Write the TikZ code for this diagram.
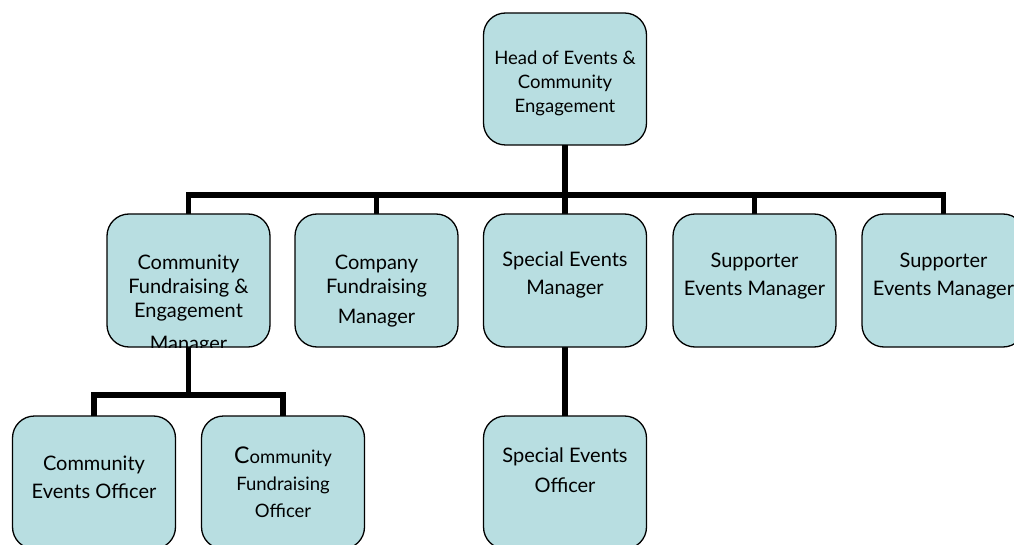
\documentclass[tikz,border=0pt]{standalone}
\usepackage{fontspec}
\setmainfont{Lato}
\definecolor{boxfill}{RGB}{184,222,225}
\tikzset{
  orgbox/.style={draw=black, line width=1.3pt, fill=boxfill, rounded corners=22pt,
    minimum width=163pt, minimum height=133pt, inner sep=0pt},
  txt/.style={align=center, inner sep=0pt, anchor=north, text=black},
  conn/.style={line width=5.5pt, draw=black},
}
\begin{document}
\begin{tikzpicture}[x=1pt,y=-1pt]
\useasboundingbox (0,0) rectangle (1014,545);
\begin{scope}
\clip (0,0) rectangle (1014,545);
% coordinates for buses
\coordinate (busL) at (188.5,195);
\coordinate (busR) at (943.5,195);
\coordinate (subL) at (94,395);
\coordinate (subR) at (283,395);
% connectors (drawn first, under boxes)
\draw[conn] (565,79) -- (565,195);
\draw[conn, line cap=rect] (busL) -- (busR);
\foreach \x in {188.5,376.5,565,754.5,943.5} \draw[conn] (\x,195) -- (\x,280);
\draw[conn] (188.5,280) -- (188.5,395);
\draw[conn, line cap=rect] (subL) -- (subR);
\draw[conn] (subL) -- (94,480);
\draw[conn] (subR) -- (283,480);
\draw[conn] (565,280) -- (565,480);
% boxes
\node[orgbox, minimum height=132pt] (head) at (565,79) {};
\node[orgbox] (cfem) at (188.5,280.5) {};
\node[orgbox] (comp) at (376.5,280.5) {};
\node[orgbox] (sem) at (565,280.5) {};
\node[orgbox] (sup1) at (754.5,280.5) {};
\node[orgbox] (sup2) at (943.5,280.5) {};
\node[orgbox] (ceo) at (94,482.5) {};
\node[orgbox] (cfo) at (283,482.5) {};
\node[orgbox] (seo) at (565,482.5) {};
% texts
\node[txt, font=\fontsize{18.5}{24}\selectfont] (headt) at (565,51) {Head of Events \&\\Community\\Engagement};
\begin{scope}
\clip[rounded corners=22pt] (cfem.south west) rectangle (cfem.north east);
\node[txt, font=\fontsize{20}{24}\selectfont] (cfemt) at (188.5,254.5) {Community\\Fundraising \&\\Engagement\\[9pt]Manager};
\end{scope}
\node[txt, font=\fontsize{20}{24}\selectfont] (compt) at (376.5,254.5) {Company\\Fundraising\\[6pt]Manager};
\node[txt, font=\fontsize{20}{28}\selectfont] (semt) at (565,252) {Special Events\\Manager};
\node[txt, font=\fontsize{20}{28}\selectfont] (sup1t) at (754.5,252.5) {Supporter\\Events Manager};
\node[txt, font=\fontsize{20}{28}\selectfont] (sup2t) at (943.5,252.5) {Supporter\\Events Manager};
\node[txt, font=\fontsize{20}{28}\selectfont] (ceot) at (94,455.5) {Community\\Events Officer};
\node[txt, font=\fontsize{18.5}{27}\selectfont] (cfot) at (283,446.5) {{\fontsize{23}{27}\selectfont C}ommunity\\Fundraising\\Officer};
\node[txt, font=\fontsize{20}{30}\selectfont] (seot) at (565,448) {Special Events\\Officer};
\end{scope}
\end{tikzpicture}
\end{document}
